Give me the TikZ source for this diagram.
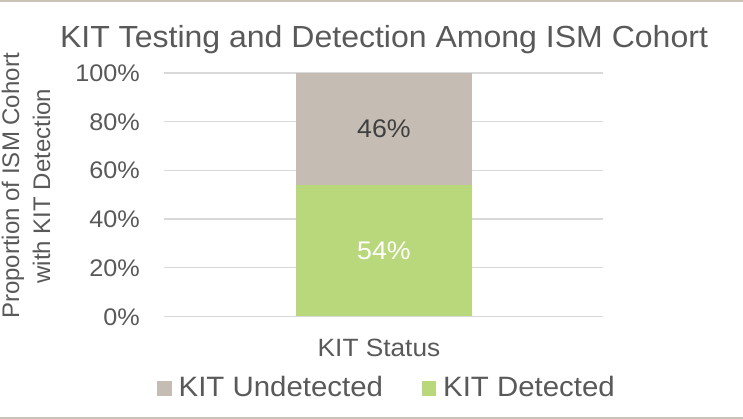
\documentclass[tikz,border=0pt]{standalone}
\usepackage{graphicx}
\usepackage{fontspec}
\setmainfont{Liberation Sans}
\definecolor{txt}{HTML}{595959}
\definecolor{lbl}{HTML}{404040}
\definecolor{gridc}{HTML}{D9D9D9}
\definecolor{frame}{HTML}{C9C3B8}
\definecolor{undet}{HTML}{C5BDB3}
\definecolor{det}{HTML}{B9D77B}
% slightly widened lettering
\newcommand{\wide}[1]{\scalebox{1.05}[1]{#1}}
\tikzset{
  fs/.style={font=\fontsize{#1}{#1}\selectfont},
  ticklbl/.style={fs=24, text=txt, anchor=base east, inner sep=0pt},
  gridline/.style={draw=gridc, line width=1.3pt},
  keybox/.style={draw=none, inner sep=0pt, minimum size=14.5pt, anchor=north west},
}
\begin{document}
\begin{tikzpicture}[x=1pt, y=-1pt]
\useasboundingbox (0,0) rectangle (743,419);
\fill[white] (0,0) rectangle (743,419);
% frame lines at top and bottom
\draw[frame, line width=2.2pt] (0,1) -- (743,1);
\draw[frame, line width=2.2pt] (0,418) -- (743,418);

% title
\node[fs=30.5, text=txt, anchor=base, inner sep=0pt] (title) at (384,48) {\wide{KIT Testing and Detection Among ISM Cohort}};

% horizontal grid and tick labels
\foreach \v [count=\i from 0] in {0,20,40,60,80,100} {
  \pgfmathsetmacro{\gy}{316.5-\i*48.7}
  \coordinate (gl\i) at (164,\gy);
  \coordinate (gr\i) at (603,\gy);
  \draw[gridline] (gl\i) -- (gr\i);
  \node[ticklbl] (tick\i) at (140,\gy+8.5) {\wide{\v\%}};
}

% stacked bar
\fill[det] (296,316.5) rectangle (472,185.2);
\fill[undet] (296,185.2) rectangle (472,73);
\draw[gridline] (gl0) -- (gr0);
\node[fs=25.5, text=white, inner sep=0pt] (vdet) at (384,251) {\wide{54\%}};
\node[fs=25.5, text=lbl, inner sep=0pt] (vundet) at (384,129) {\wide{46\%}};

% axis titles
\node[fs=24, text=txt, rotate=90, anchor=base, inner sep=0pt] (ytitleA) at (19,186) {Proportion of ISM Cohort};
\node[fs=24, text=txt, rotate=90, anchor=base, inner sep=0pt] (ytitleB) at (50,186) {with KIT Detection};
\node[fs=25, text=txt, anchor=base, inner sep=0pt] (xtitle) at (379,356) {\wide{KIT Status}};

% legend
\node[keybox, fill=undet] (keyU) at (157,381) {};
\node[fs=28, text=txt, anchor=base west, inner sep=0pt] (legU) at (178.5,396.5) {\wide{KIT Undetected}};
\node[keybox, fill=det] (keyD) at (421.5,381) {};
\node[fs=28, text=txt, anchor=base west, inner sep=0pt] (legD) at (443,396.5) {\wide{KIT Detected}};
\end{tikzpicture}
\end{document}
